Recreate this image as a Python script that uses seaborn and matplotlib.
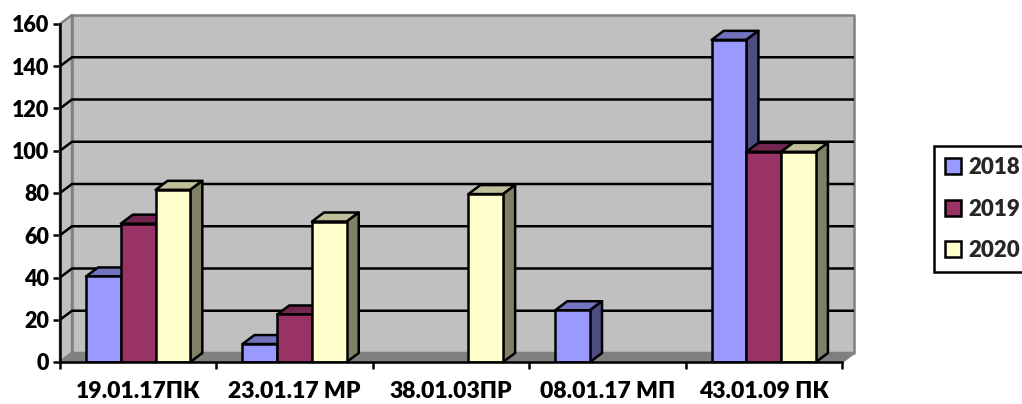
#!/usr/bin/env python3
import numpy as np
import pandas as pd
import matplotlib
matplotlib.use('Agg')
import matplotlib.pyplot as plt
import seaborn as sns
from matplotlib.patches import Polygon
from matplotlib.lines import Line2D

categories = ['19.01.17ПК', '23.01.17 МР', '38.01.03ПР', '08.01.17 МП', '43.01.09 ПК']
series_2018 = [40.5, 8.5, np.nan, 24.5, 152.5]
series_2019 = [65.5, 22.5, np.nan, np.nan, 99.5]
series_2020 = [81.5, 66.5, 79.5, np.nan, 99.5]
years = ['2018', '2019', '2020']
y_ticks = [0, 20, 40, 60, 80, 100, 120, 140, 160]

front_colors = ['#9999FF', '#993366', '#FFFFCC']
top_colors = ['#7373BF', '#732650', '#BFBF99']
side_colors = ['#4D4D80', '#4D1A33', '#808066']

W, H = 1022, 404
AX_L, AX_R, AX_T, AX_B = 60, 842, 24, 362
DEPTH_X, DEPTH_Y = 12, 9  # pseudo-3D offset in pixels
LW = 1.8
WEIGHT = 'heavy'

sns.set_style('white')
plt.rcParams['font.family'] = 'Lato'
plt.rcParams['font.weight'] = WEIGHT

df = pd.DataFrame({'category': categories, '2018': series_2018, '2019': series_2019, '2020': series_2020})
long_df = df.melt(id_vars='category', var_name='year', value_name='value')

fig = plt.figure(figsize=(W / 100, H / 100), dpi=100)
ax = fig.add_axes([AX_L / W, 1 - AX_B / H, (AX_R - AX_L) / W, (AX_B - AX_T) / H])
ax.patch.set_alpha(0)

sns.barplot(data=long_df, x='category', y='value', hue='year', order=categories, hue_order=years,
            palette=front_colors, width=2 / 3, gap=0, saturation=1, errorbar=None, legend=False, ax=ax)

ax.set_xlim(-0.5, 4.5)
ax.set_ylim(0, 160)
dx = DEPTH_X / ((AX_R - AX_L) / 5)
dy = DEPTH_Y / ((AX_B - AX_T) / 160)


def poly(points, face, edge, z, lw=LW):
    ax.add_patch(Polygon(points, closed=True, facecolor=face, edgecolor=edge, linewidth=lw,
                         joinstyle='round', clip_on=False, zorder=z))


# walls and floor
x0, x1 = -0.5, 4.5
poly([(x0 + dx, dy), (x1 + dx, dy), (x1 + dx, 160 + dy), (x0 + dx, 160 + dy)], '#C0C0C0', '#808080', 0.5)
poly([(x0, 0), (x0 + dx, dy), (x0 + dx, 160 + dy), (x0, 160)], '#C0C0C0', '#808080', 0.6)
poly([(x0, 0), (x1, 0), (x1 + dx, dy), (x0 + dx, dy)], '#808080', '#808080', 0.6)

for v in y_ticks[1:-1]:
    ax.plot([x0, x0 + dx, x1 + dx], [v, v + dy, v + dy], color='black', lw=LW, clip_on=False,
            solid_capstyle='butt', zorder=1)

# bars, left to right so each one covers the side of the previous one
order = 0
bars = []
for s, container in enumerate(ax.containers):
    for bar in container:
        bars.append((bar.get_x(), s, bar))
for left, s, bar in sorted(bars, key=lambda b: b[0]):
    h = bar.get_height()
    if not h or np.isnan(h):
        bar.set_visible(False)
        continue
    w = bar.get_width()
    z = 3 + order * 0.01
    order += 1
    poly([(left, h), (left + w, h), (left + w + dx, h + dy), (left + dx, h + dy)], top_colors[s], 'black', z)
    poly([(left + w, 0), (left + w + dx, dy), (left + w + dx, h + dy), (left + w, h)], side_colors[s], 'black', z)
    bar.set_edgecolor('black')
    bar.set_linewidth(LW)
    bar.set_zorder(z + 0.005)

ax.set_xlabel('')
ax.set_ylabel('')
ax.set_yticks(y_ticks)
ax.set_xticks(np.arange(-0.5, 5, 1), minor=False)
ax.set_xticklabels([''] * 6)
ax.set_xticks(np.arange(5), labels=categories, minor=True)
ax.tick_params(axis='x', which='major', length=5, width=LW, color='black', direction='out', bottom=True)
ax.tick_params(axis='x', which='minor', length=0, pad=14, labelsize=16.5, labelcolor='black')
ax.tick_params(axis='y', length=5, width=LW, color='black', direction='out', left=True, pad=3,
               labelsize=15.5, labelcolor='black')
for t in ax.get_xticklabels(minor=True) + ax.get_yticklabels():
    t.set_fontweight(WEIGHT)

for side in ['top', 'right']:
    ax.spines[side].set_visible(False)
for side in ['left', 'bottom']:
    ax.spines[side].set_visible(True)
    ax.spines[side].set_color('black')
    ax.spines[side].set_linewidth(LW)
    ax.spines[side].set_zorder(10)

handles = [Line2D([], [], linestyle='none', marker='s', markersize=11.5, markerfacecolor=c,
                  markeredgecolor='black', markeredgewidth=LW) for c in front_colors]
legend = fig.legend(handles, years, loc='upper left', bbox_to_anchor=(934 / W, 1 - 146 / H),
                    borderaxespad=0, fancybox=False, edgecolor='black', framealpha=1,
                    prop={'size': 16, 'weight': WEIGHT}, labelspacing=0.92, handletextpad=0.35,
                    borderpad=0.5, handlelength=0.7)
legend.get_frame().set_linewidth(LW)

fig.savefig('out.png', dpi=100)
